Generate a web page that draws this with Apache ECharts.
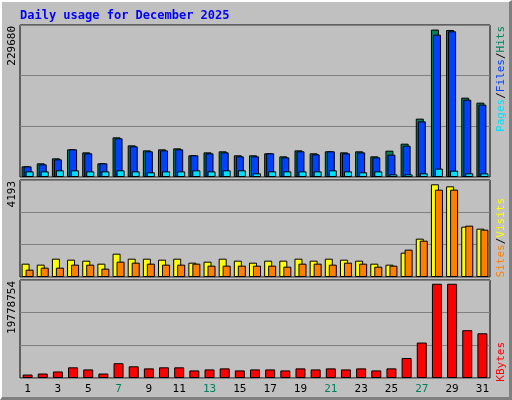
<!DOCTYPE html>
<html>
<head>
<meta charset="utf-8">
<script src="https://cdn.jsdelivr.net/npm/echarts@6/dist/echarts.min.js"></script>
<style>
  html, body { margin: 0; padding: 0; background: #c0c0c0; }
  #main { width: 512px; height: 400px; box-sizing: border-box;
          border-left: 2px solid #fff; border-top: 2px solid #fff;
          border-right: 3px solid #808080; border-bottom: 3px solid #808080; }
</style>
</head>
<body>
<div id="main"></div>
<script>
// daily values, December 2025
var days = [];
for (var d = 1; d <= 31; d++) days.push(String(d));
var weekendDays = ['6', '7', '13', '14', '20', '21', '27', '28'];

var hits = [16600, 21300, 29100, 43100, 38400, 21300, 61800, 49300, 41500, 43100, 44600, 33800, 38400, 40000, 33800, 33800,
  36900, 32200, 41500, 36900, 40000, 38400, 40000, 32200, 41000, 51900, 90900, 229680, 229000, 123600, 115800];
var files = [16600, 19700, 27500, 43100, 36900, 21300, 60300, 47800, 40000, 41500, 43100, 33800, 36900, 38400, 32200, 32200,
  36900, 30600, 40000, 35300, 40000, 36900, 38400, 30600, 34800, 48800, 86700, 221700, 227000, 120400, 112700];
var pages = [8800, 8800, 10400, 10400, 8800, 8800, 10400, 8800, 7300, 8800, 8800, 10400, 8800, 10400, 10400, 5700,
  8800, 8800, 8800, 8800, 10400, 8800, 7300, 8800, 4100, 4100, 5700, 13000, 9900, 5700, 5700];

var visits = [603, 558, 829, 784, 739, 603, 1056, 829, 829, 784, 829, 648, 694, 829, 739, 648,
  739, 739, 829, 739, 829, 784, 739, 603, 558, 1101, 1734, 4193, 4102, 2277, 2187];
var sites = [332, 422, 422, 558, 558, 377, 694, 648, 603, 558, 558, 603, 513, 513, 513, 513,
  513, 467, 603, 603, 558, 648, 603, 467, 513, 1237, 1644, 3951, 3951, 2322, 2141];

var kbytes = [722000, 938000, 1370000, 2240000, 1800000, 938000, 3100000, 2450000, 2020000, 2240000, 2240000, 1590000,
  1800000, 2020000, 1590000, 1800000, 1800000, 1590000, 2020000, 1800000, 2020000, 1800000, 2020000, 1590000,
  2020000, 4190000, 7440000, 19778754, 19778754, 10030000, 9380000];

var maxLabels = ['229680', '4193', '19778754'];
var topMax = [236800, 4388, 20570000];

var chart = echarts.init(document.getElementById('main'));
var mono = 'DejaVu Sans Mono';
var bar = { borderColor: '#000', borderWidth: 1 };

function gridY(i) {
  return {
    gridIndex: i, type: 'value', min: 0, max: topMax[i], interval: topMax[i] / 3,
    axisLabel: { show: false }, axisLine: { show: false }, axisTick: { show: false },
    splitLine: { show: true, lineStyle: { color: '#808080', width: 1 } }
  };
}
function gridX(i) {
  return {
    gridIndex: i, type: 'category', data: days,
    axisLine: { show: false }, axisTick: { show: false },
    axisLabel: i < 2 ? { show: false } : {
      margin: 6, fontFamily: mono, fontSize: 11,
      color: function (v) { return weekendDays.indexOf(v) > -1 ? '#00805c' : '#000'; }
    }
  };
}
function sideLabel(y, text) {
  return { type: 'text', x: 8, y: y, rotation: Math.PI / 2,
    style: { text: text, fontFamily: mono, fontSize: 11, fill: '#000', align: 'right', verticalAlign: 'middle' } };
}

var option = {
  backgroundColor: '#c0c0c0',
  animation: false,
  grid: [
    { left: 18, right: 19, top: 23, height: 152, show: true, borderColor: '#000', backgroundColor: '#c0c0c0' },
    { left: 18, right: 19, top: 178, height: 97, show: true, borderColor: '#000', backgroundColor: '#c0c0c0' },
    { left: 18, right: 19, top: 278, height: 98, show: true, borderColor: '#000', backgroundColor: '#c0c0c0' }
  ],
  xAxis: [gridX(0), gridX(1), gridX(2)],
  yAxis: [gridY(0), gridY(1), gridY(2)],
  series: [
    { type: 'bar', name: 'Hits', data: hits, xAxisIndex: 0, yAxisIndex: 0, barWidth: 8, barGap: '-75%',
      itemStyle: Object.assign({ color: '#00805c' }, bar) },
    { type: 'bar', name: 'Files', data: files, xAxisIndex: 0, yAxisIndex: 0, barWidth: 8, barGap: '-75%',
      itemStyle: Object.assign({ color: '#0040ff' }, bar) },
    { type: 'bar', name: 'Pages', data: pages, xAxisIndex: 0, yAxisIndex: 0, barWidth: 8, barGap: '-75%',
      itemStyle: Object.assign({ color: '#00e0ff' }, bar) },
    { type: 'bar', name: 'Visits', data: visits, xAxisIndex: 1, yAxisIndex: 1, barWidth: 8, barGap: '-50%',
      itemStyle: Object.assign({ color: '#ffff00' }, bar) },
    { type: 'bar', name: 'Sites', data: sites, xAxisIndex: 1, yAxisIndex: 1, barWidth: 8, barGap: '-50%',
      itemStyle: Object.assign({ color: '#ff8000' }, bar) },
    { type: 'bar', name: 'KBytes', data: kbytes, xAxisIndex: 2, yAxisIndex: 2, barWidth: 10,
      itemStyle: Object.assign({ color: '#ff0000' }, bar) }
  ],
  graphic: [
    { type: 'text', left: 18, top: 8,
      style: { text: 'Daily usage for December 2025', fontFamily: mono, fontSize: 12, fontWeight: 'bold', fill: '#0000ff' } },
    { type: 'text', x: 16, y: 24, rotation: Math.PI / 2,
      style: { text: maxLabels[0], fontFamily: mono, fontSize: 11, fill: '#000', align: 'right', verticalAlign: 'bottom' } },
    { type: 'text', x: 16, y: 179, rotation: Math.PI / 2,
      style: { text: maxLabels[1], fontFamily: mono, fontSize: 11, fill: '#000', align: 'right', verticalAlign: 'bottom' } },
    { type: 'text', x: 16, y: 279, rotation: Math.PI / 2,
      style: { text: maxLabels[2], fontFamily: mono, fontSize: 11, fill: '#000', align: 'right', verticalAlign: 'bottom' } },
    { type: 'text', x: 494, y: 24, rotation: Math.PI / 2,
      style: { text: '{p|Pages}{s|/}{f|Files}{s|/}{h|Hits}', align: 'right', verticalAlign: 'top',
        rich: { p: { fill: '#00e0ff', fontFamily: mono, fontSize: 11 }, f: { fill: '#0040ff', fontFamily: mono, fontSize: 11 },
                h: { fill: '#00805c', fontFamily: mono, fontSize: 11 }, s: { fill: '#000', fontFamily: mono, fontSize: 11 } } } },
    { type: 'text', x: 494, y: 196, rotation: Math.PI / 2,
      style: { text: '{a|Sites}{s|/}{v|Visits}', align: 'right', verticalAlign: 'top',
        rich: { a: { fill: '#ff8000', fontFamily: mono, fontSize: 11 }, v: { fill: '#ffff00', fontFamily: mono, fontSize: 11 },
                s: { fill: '#000', fontFamily: mono, fontSize: 11 } } } },
    { type: 'text', x: 494, y: 340, rotation: Math.PI / 2,
      style: { text: 'KBytes', fill: '#ff0000', fontFamily: mono, fontSize: 11, align: 'right', verticalAlign: 'top' } }
  ]
};
chart.setOption(option);
</script>
</body>
</html>
